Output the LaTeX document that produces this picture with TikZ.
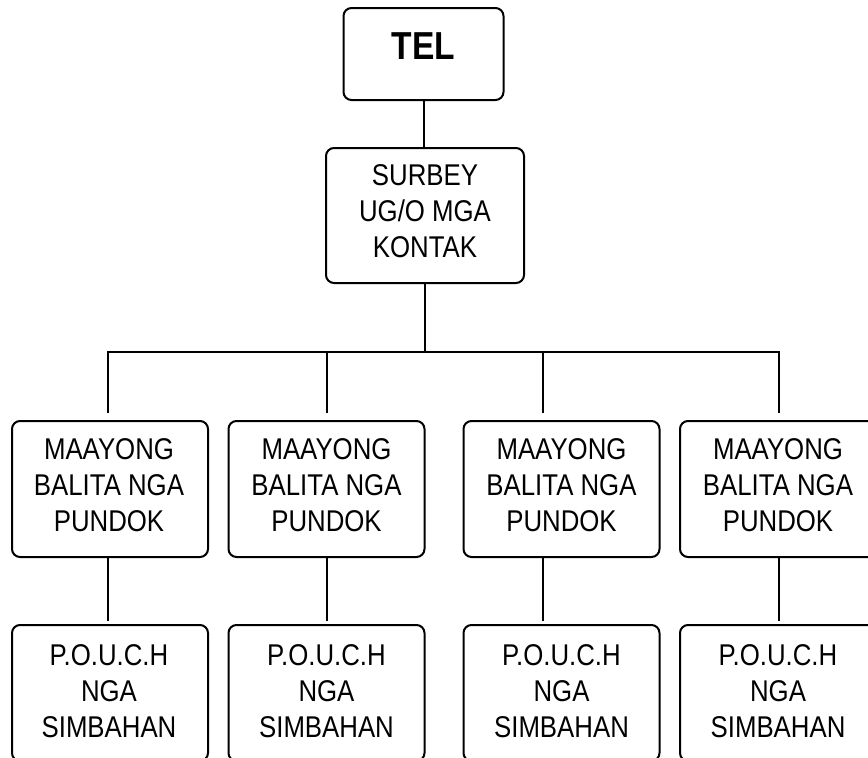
\documentclass[tikz,border=0pt]{standalone}
\usepackage{fontspec}
\newfontfamily\narrowsans[FakeStretch=0.86]{Liberation Sans}
\begin{document}
\begin{tikzpicture}[x=1pt,y=-1pt,
  box/.style={draw, line width=2pt, rounded corners=8pt, minimum width=196pt, minimum height=136pt, inner sep=0pt},
  txt/.style={font=\narrowsans\fontsize{30}{36}\selectfont, align=center, inner sep=0pt},
  link/.style={line width=2pt}]
\useasboundingbox (0,0) rectangle (868,758);
\fill[white] (0,0) rectangle (868,758);
\clip (0,0) rectangle (868,758);

% top
\node[box, minimum width=160pt, minimum height=92pt] (tel) at (423.5,54) {};
\node[txt, font=\narrowsans\bfseries\fontsize{39}{44}\selectfont] (telt) at (423.5,46) {TEL};
\node[box, minimum width=198pt, minimum height=135pt] (sur) at (425,215.5) {};
\node[txt] (surt) at (425,211.5) {SURBEY\\UG/O MGA\\KONTAK};

% row 2
\node[box] (m1) at (110,489) {};
\node[box] (m2) at (326.5,489) {};
\node[box] (m3) at (561.5,489) {};
\node[box] (m4) at (778,489) {};
\node[txt] (m1t) at (109,485) {MAAYONG\\BALITA NGA\\PUNDOK};
\node[txt] (m2t) at (326.5,485) {MAAYONG\\BALITA NGA\\PUNDOK};
\node[txt] (m3t) at (561.5,485) {MAAYONG\\BALITA NGA\\PUNDOK};
\node[txt] (m4t) at (778,485) {MAAYONG\\BALITA NGA\\PUNDOK};

% row 3
\node[box] (p1) at (110,693) {};
\node[box] (p2) at (326.5,693) {};
\node[box] (p3) at (561.5,693) {};
\node[box] (p4) at (778,693) {};
\node[txt] (p1t) at (109,691.5) {P.O.U.C.H\\NGA\\SIMBAHAN};
\node[txt] (p2t) at (326.5,691.5) {P.O.U.C.H\\NGA\\SIMBAHAN};
\node[txt] (p3t) at (561.5,691.5) {P.O.U.C.H\\NGA\\SIMBAHAN};
\node[txt] (p4t) at (778,691.5) {P.O.U.C.H\\NGA\\SIMBAHAN};

% connectors
\coordinate (c1) at (108,352);
\coordinate (c2) at (327,352);
\coordinate (c3) at (543,352);
\coordinate (c4) at (779,352);
\draw[link] (tel.south) -- (tel.south |- sur.north);
\draw[link] (sur.south) -- (sur.south |- c1);
\draw[link, shorten <=7pt, shorten >=7pt] (c1 |- m1.north) -- (c1) -- (c4) -- (c4 |- m4.north);
\draw[link, shorten >=7pt] (c2) -- (c2 |- m2.north);
\draw[link, shorten >=7pt] (c3) -- (c3 |- m3.north);
\draw[link, shorten >=3pt] (c1 |- m1.south) -- (c1 |- p1.north);
\draw[link, shorten >=3pt] (c2 |- m2.south) -- (c2 |- p2.north);
\draw[link, shorten >=3pt] (c3 |- m3.south) -- (c3 |- p3.north);
\draw[link, shorten >=3pt] (c4 |- m4.south) -- (c4 |- p4.north);
\end{tikzpicture}
\end{document}
